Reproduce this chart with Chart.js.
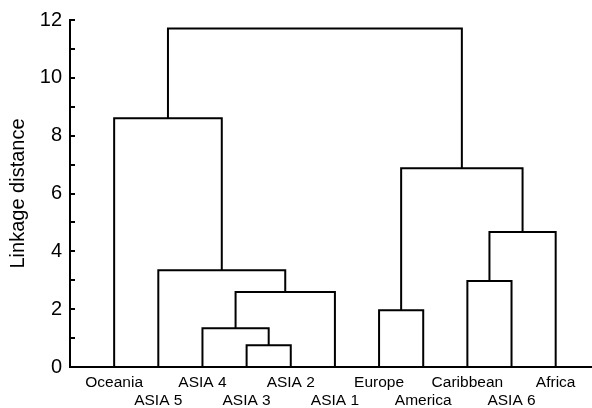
<!DOCTYPE html>
<html>
<head>
<meta charset="utf-8">
<script src="https://cdn.jsdelivr.net/npm/chart.js@4/dist/chart.umd.min.js"></script>
<style>
  html, body { margin: 0; padding: 0; background: #fff; }
  canvas { display: block; }
</style>
</head>
<body>
<canvas id="dendro" width="592" height="408"></canvas>
<script>
// leaves in plotting order (index = position on the x axis)
const leaves = ['Oceania', 'ASIA 5', 'ASIA 4', 'ASIA 3', 'ASIA 2', 'ASIA 1',
                'Europe', 'America', 'Caribbean', 'ASIA 6', 'Africa'];

// linkage: each merge joins two nodes (leaf ids 0-10, merge k gets id 11 + k)
const mergeLeft  = [3, 2, 12, 1, 6, 8, 16, 0, 15, 18];
const mergeRight = [4, 11, 5, 13, 7, 9, 10, 14, 17, 19];
const mergeHeight = [0.75, 1.34, 2.59, 3.35, 1.96, 2.97, 4.67, 8.60, 6.87, 11.71];

const yTicks = [0, 2, 4, 6, 8, 10, 12];

// position and height for every node
const nodeX = leaves.map((_, i) => i);
const nodeH = leaves.map(() => 0);
const datasets = [];
mergeHeight.forEach((h, k) => {
    const a = mergeLeft[k], b = mergeRight[k];
    nodeX.push((nodeX[a] + nodeX[b]) / 2);
    nodeH.push(h);
    datasets.push({
        data: [
            { x: nodeX[a], y: nodeH[a] },
            { x: nodeX[a], y: h },
            { x: nodeX[b], y: h },
            { x: nodeX[b], y: nodeH[b] }
        ],
        showLine: true,
        borderColor: '#000',
        borderWidth: 2,
        pointRadius: 0,
        tension: 0
    });
});

Chart.defaults.font.family = '"Liberation Sans", Arial, sans-serif';
Chart.defaults.color = '#000';

new Chart(document.getElementById('dendro'), {
    type: 'scatter',
    data: { datasets: datasets },
    options: {
        responsive: false,
        animation: false,
        layout: { padding: { left: 0, right: 1, top: 20, bottom: 0 } },
        plugins: { legend: { display: false }, tooltip: { enabled: false } },
        scales: {
            x: {
                type: 'linear',
                position: 'bottom',
                min: -1,
                max: 10.8,
                afterBuildTicks: scale => { scale.ticks = leaves.map((_, i) => ({ value: i })); },
                afterFit: scale => { scale.height = 41; scale.paddingLeft = 0; scale.paddingRight = 0; },
                grid: { drawOnChartArea: false, drawTicks: false },
                border: { color: '#000', width: 2 },
                ticks: {
                    autoSkip: false,
                    maxRotation: 0,
                    padding: 7,
                    font: { size: 15.5, lineHeight: 1.13 },
                    callback: v => {
                        const i = Math.round(v);
                        return i % 2 === 0 ? leaves[i] : ['', leaves[i]];
                    }
                }
            },
            y: {
                min: 0,
                max: 12,
                afterFit: scale => { scale.width = 70; scale.paddingTop = 0; scale.paddingBottom = 0; },
                grid: { drawOnChartArea: false, drawTicks: true, tickLength: -5, color: '#000', lineWidth: 2 },
                border: { color: '#000', width: 2 },
                ticks: {
                    stepSize: 1,
                    padding: 13,
                    font: { size: 20 },
                    callback: v => yTicks.includes(v) ? v : ''
                },
                title: {
                    display: true,
                    text: 'Linkage distance',
                    font: { size: 20 },
                    padding: { top: 6, bottom: 0 }
                }
            }
        }
    }
});
</script>
</body>
</html>
